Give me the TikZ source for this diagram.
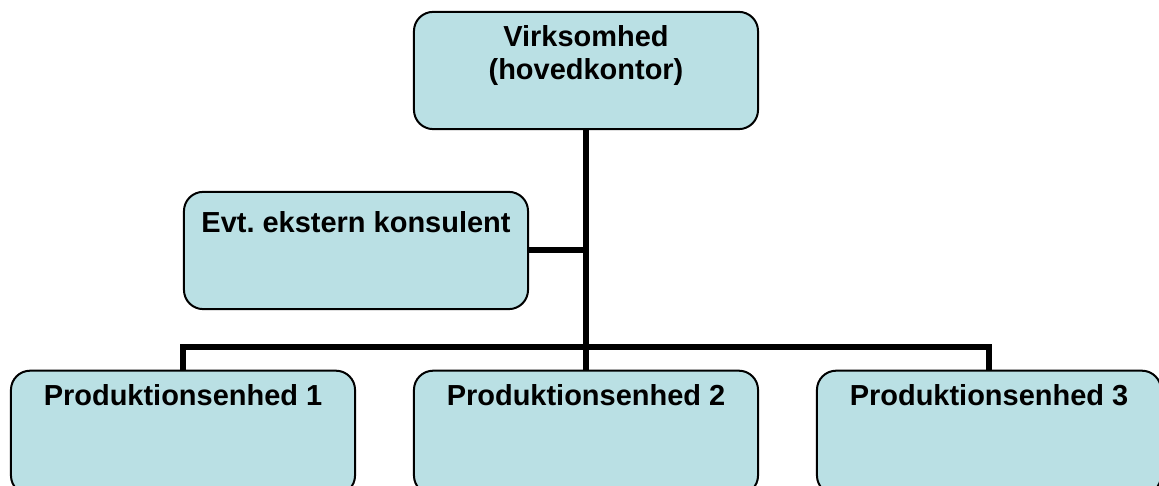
\documentclass[tikz,border=0pt]{standalone}
\usepackage{fontspec}
\setmainfont{Liberation Sans}
\usetikzlibrary{positioning}
\definecolor{boxcyan}{RGB}{186,224,228}
\tikzset{
  orgbox/.style={rectangle, rounded corners=0.48cm, draw, line width=0.05cm, fill=boxcyan, minimum width=8.6cm, minimum height=2.93cm, inner sep=0pt},
  boxtext/.style={anchor=north, inner sep=0pt, align=center, font=\fontsize{20.6}{23.2}\selectfont\bfseries},
  orgline/.style={line width=0.15cm}
}

\begin{document}
\begin{tikzpicture}[x=0.025cm, y=0.025cm]
\useasboundingbox (0,0) rectangle (1159,486);
\clip (0,0) rectangle (1159,486);
% Head office and consultant
\node[orgbox, label={[boxtext, yshift=-0.36cm]north:{Virksomhed\\(hovedkontor)}}] (hq) at (586,415.5) {};
\node[orgbox, label={[boxtext, yshift=-0.52cm]north:{Evt.\ ekstern konsulent}}] (consult) at (356,235.5) {};

% Production units (cut off at the bottom)
\node[orgbox, minimum height=3.1cm, label={[boxtext, yshift=-0.375cm]north:{Produktionsenhed 1}}] (unit1) at (183,53.3) {};
\node[orgbox, minimum height=3.1cm, label={[boxtext, yshift=-0.375cm]north:{Produktionsenhed 2}}] (unit2) at (586,53.3) {};
\node[orgbox, minimum height=3.1cm, label={[boxtext, yshift=-0.375cm]north:{Produktionsenhed 3}}] (unit3) at (989,53.3) {};

% Connectors
\coordinate (bar) at (586,139);
\draw[orgline] (hq.south) -- (unit2.north);
\draw[orgline] (consult.east) -- (consult.east -| hq.south);
\draw[orgline] (unit1.north) |- (bar) -| (unit3.north);
\end{tikzpicture}
\end{document}
